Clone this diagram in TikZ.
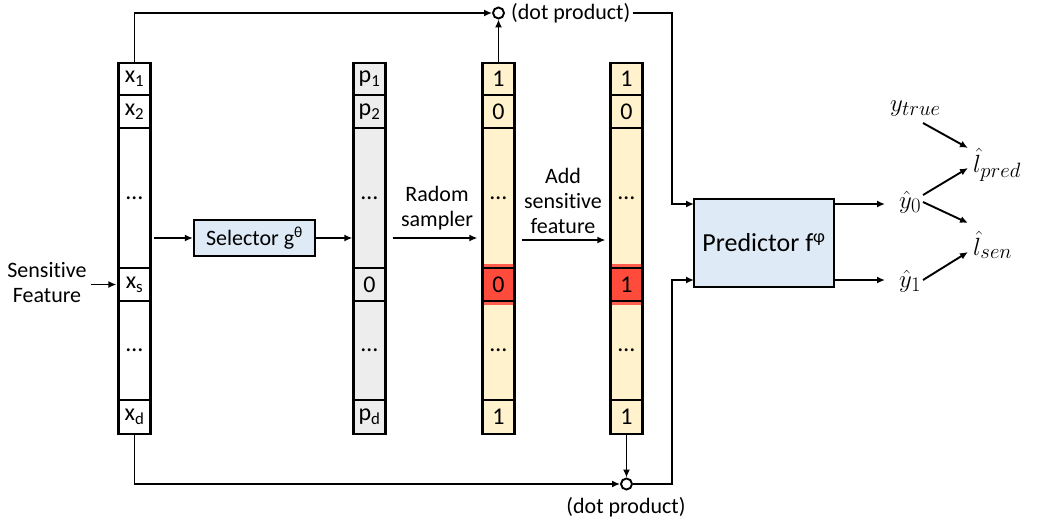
\documentclass[tikz,border=0pt]{standalone}
\usepackage[no-math]{fontspec}
\setmainfont{Carlito}[Ligatures=NoCommon]
\usetikzlibrary{arrows.meta,calc}
\definecolor{cgray}{HTML}{EDEDED}
\definecolor{ccream}{HTML}{FFF2CC}
\definecolor{cblue}{HTML}{DEEBF7}
\definecolor{cred}{HTML}{FF4B3B}
\definecolor{credband}{HTML}{FF5E4E}
\begin{document}
\begin{tikzpicture}[x=1pt,y=-1pt,
  font=\fontsize{22}{25}\selectfont,
  cell/.style={draw, line width=2.2pt, minimum width=32pt, inner sep=0pt, anchor=center, font=\fontsize{24}{26}\selectfont},
  conn/.style={line width=1.9pt, -{Latex[length=8pt,width=7pt]}},
  box/.style={draw, line width=2.2pt, fill=cblue, inner sep=0pt},
  dotc/.style={circle, draw, line width=1.9pt, fill=white, minimum size=11pt, inner sep=0pt},
  mlab/.style={font=\fontsize{31}{33}\selectfont, inner sep=0pt, anchor=base west}]
\useasboundingbox (0,0) rectangle (1050,523);

% column x
\foreach \n/\yc/\h/\t in {1/79/32/{x\textsubscript{1}}, 2/111.5/33/{x\textsubscript{2}}, 3/198/140/{…}, 4/284.5/33/{x\textsubscript{s}}, 5/350.5/99/{…}, 6/417/34/{x\textsubscript{d}}}
  \node[cell, fill=white, minimum height=\h pt] (X\n) at (134.5,\yc) {\t};
% column p
\foreach \n/\yc/\h/\t in {1/79/32/{p\textsubscript{1}}, 2/111.5/33/{p\textsubscript{2}}, 3/198/140/{…}, 4/284.5/33/{0}, 5/350.5/99/{…}, 6/417/34/{p\textsubscript{d}}}
  \node[cell, fill=cgray, minimum height=\h pt] (P\n) at (369.5,\yc) {\t};
% column sampled
\foreach \n/\yc/\h/\t in {1/79/32/{1}, 2/111.5/33/{0}, 3/198/140/{…}, 5/350.5/99/{…}, 6/417/34/{1}}
  \node[cell, fill=ccream, minimum height=\h pt] (S\n) at (498.5,\yc) {\t};
% column added
\foreach \n/\yc/\h/\t in {1/79/32/{1}, 2/111.5/33/{0}, 3/198/140/{…}, 5/350.5/99/{…}, 6/417/34/{1}}
  \node[cell, fill=ccream, minimum height=\h pt] (A\n) at (626.5,\yc) {\t};
% red bands
\fill[credband] (483.6,264) rectangle (513.4,305);
\fill[credband] (611.6,264) rectangle (641.4,305);
\node[cell, fill=cred, minimum height=33pt] (S4) at (498.5,284.5) {0};
\node[cell, fill=cred, minimum height=33pt] (A4) at (626.5,284.5) {1};

% boxes
\node[box, minimum width=121pt, minimum height=36pt] (sel) at (254.5,238) {Selector g\textsuperscript{θ}};
\node[box, minimum width=140pt, minimum height=88pt, font=\fontsize{26}{28}\selectfont] (pred) at (764,243) {Predictor f\textsuperscript{φ}};

% texts
\node[align=center, inner sep=0pt] (sens) at (47,283) {Sensitive\\Feature};
\node[align=center, inner sep=0pt] (samp) at (437,208) {Radom\\sampler};
\node[align=center, inner sep=0pt] (addf) at (563,201) {Add\\sensitive\\feature};

% dot products
\node[dotc] (dot1) at (498.5,13) {};
\node[anchor=west, inner sep=0pt] (dpt1) at (511,13) {(dot product)};
\node[dotc] (dot2) at (626.5,484) {};
\node[inner sep=0pt] (dpt2) at (626,507) {(dot product)};
\coordinate (k1) at (672,13);
\coordinate (k2) at (672,484);
\coordinate (pin1) at (694,204);
\coordinate (pin2) at (694,280);

% connectors
\draw[conn] (X1.north) |- (dot1.west);
\draw[conn] (S1.north) -- (dot1.south);
\draw[conn, shorten <=2pt] (dpt1.east) -- (k1) |- (pin1);
\draw[conn] (X6.south) |- (dot2.west);
\draw[conn] (A6.south) -- (dot2.north);
\draw[conn] (dot2.east) -- (k2) |- (pin2);
\draw[conn, shorten <=2pt] (X3.east |- sel.west) -- (sel.west);
\draw[conn] (sel.east) -- (sel.east -| P3.west);
\draw[conn, shorten <=6pt, shorten >=4pt] (P3.east |- 0,238) -- (S3.west |- 0,238);
\draw[conn, shorten <=6pt, shorten >=4pt] (S3.east |- 0,240) -- (A3.west |- 0,240);
\draw[conn, shorten <=4pt, shorten >=1pt] (sens.east |- X4.west) -- (X4.west);

% outputs
\node[mlab] (y0) at (899,208) {$\hat{y}_0$};
\node[mlab] (y1) at (899,287) {$\hat{y}_1$};
\node[mlab] (yt) at (890,111) {$y_{true}$};
\node[mlab] (lp) at (973,172) {$\hat{l}_{pred}$};
\node[mlab] (ls) at (973,255) {$\hat{l}_{sen}$};
\draw[conn] (pred.east |- pin1) -- ($(y0.base west)+(-14,-4)$);
\draw[conn] (pred.east |- pin2) -- ($(y1.base west)+(-14,-7)$);
\draw[conn] ($(yt.base west)+(33,12)$) -- ($(lp.base west)+(-5,-24)$);
\draw[conn] ($(y0.base west)+(24,-13)$) -- ($(lp.base west)+(-5,-4)$);
\draw[conn] ($(y0.base west)+(24,-6)$) -- ($(ls.base west)+(-5,-32)$);
\draw[conn] ($(y1.base west)+(24,-7)$) -- ($(ls.base west)+(-5,-3)$);
\end{tikzpicture}
\end{document}
